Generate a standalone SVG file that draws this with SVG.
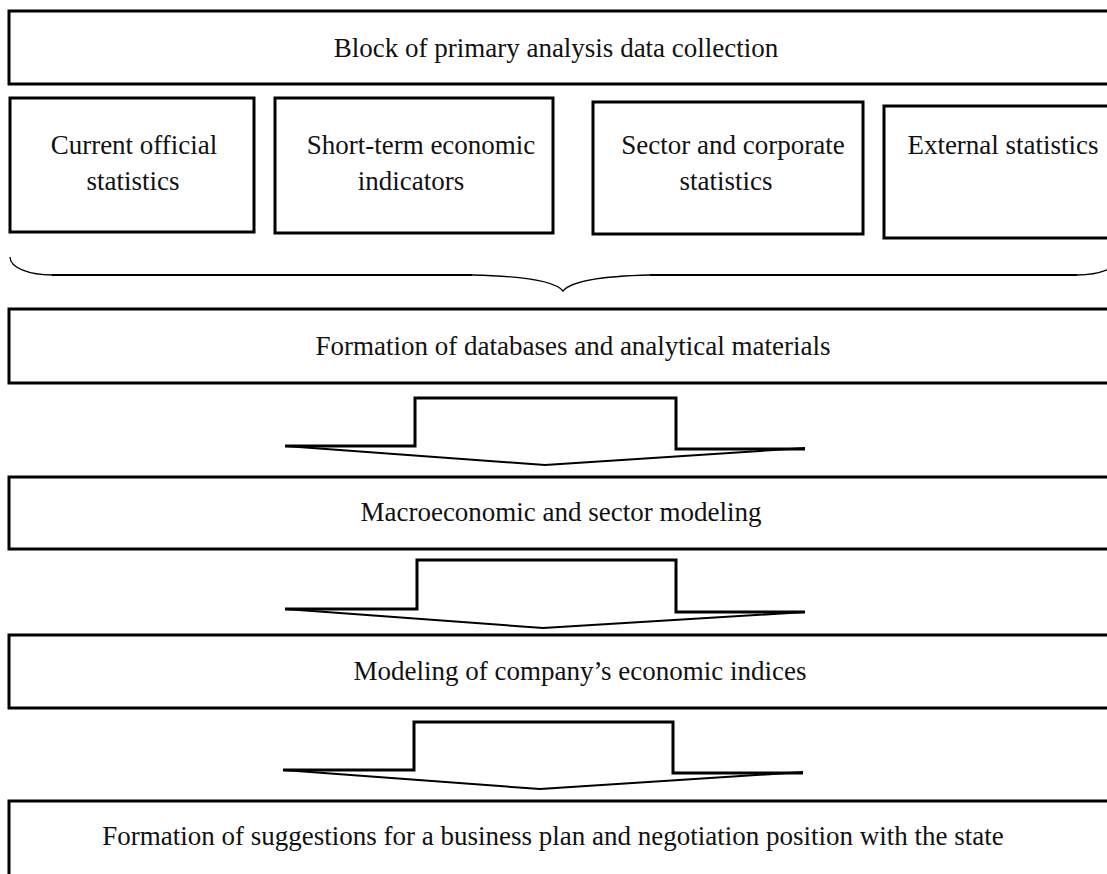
<svg xmlns="http://www.w3.org/2000/svg" width="1107" height="874" viewBox="0 0 1107 874">
<style>
.box{fill:#fff;stroke:#000;stroke-width:3}
.t{font-family:"Liberation Serif","Times New Roman",serif;font-size:27px;fill:#111;text-anchor:middle}
.arr{fill:none;stroke:#000;stroke-width:3;stroke-linejoin:miter}
.diag{fill:none;stroke:#000;stroke-width:2}
.brace{fill:none;stroke:#000;stroke-width:2}
.bc{fill:none;stroke:#000;stroke-width:1.3}
</style>
<rect x="0" y="0" width="1107" height="874" fill="#fff"/>
<g id="block-primary">
<rect class="box" x="9" y="11" width="1115" height="73"/>
<text class="t" x="556" y="57">Block of primary analysis data collection</text>
</g>
<g id="current-official">
<rect class="box" x="10" y="98" width="244" height="134"/>
<text class="t" x="134" y="154">Current official</text>
<text class="t" x="133" y="190">statistics</text>
</g>
<g id="short-term">
<rect class="box" x="275" y="98" width="278" height="135"/>
<text class="t" x="421" y="154">Short-term economic</text>
<text class="t" x="411" y="190">indicators</text>
</g>
<g id="sector-corporate">
<rect class="box" x="593" y="102" width="270" height="132"/>
<text class="t" x="733" y="154">Sector and corporate</text>
<text class="t" x="726" y="190">statistics</text>
</g>
<g id="external">
<rect class="box" x="884" y="106" width="240" height="132"/>
<text class="t" x="1003" y="154">External statistics</text>
</g>
<g id="brace">
<path class="bc" d="M10,257 C10,268 30,275 52,275"/>
<path class="brace" d="M52,275 H472"/>
<path class="bc" d="M472,275 C520,276 555,281 563,291 C571,281 606,276 650,275"/>
<path class="brace" d="M650,275 H1077"/>
<path class="bc" d="M1077,275 C1099,275 1119,268 1119,257"/>
</g>
<g id="formation-db">
<rect class="box" x="9" y="309" width="1115" height="74"/>
<text class="t" x="573" y="355">Formation of databases and analytical materials</text>
</g>
<g id="macro">
<rect class="box" x="9" y="477" width="1115" height="72"/>
<text class="t" x="561" y="521">Macroeconomic and sector modeling</text>
</g>
<g id="modeling-company">
<rect class="box" x="9" y="635" width="1115" height="73"/>
<text class="t" x="580" y="680">Modeling of company’s economic indices</text>
</g>
<g id="suggestions">
<rect class="box" x="9" y="801" width="1115" height="100"/>
<text class="t" x="553" y="845">Formation of suggestions for a business plan and negotiation position with the state</text>
</g>
<g id="connectors">
<path class="arr" d="M285,446 H415 V398 H676 V449 H805"/>
<path class="diag" d="M805,448 L545,465 L285,446"/>
<path class="arr" d="M285,609 H417 V560 H676 V612 H805"/>
<path class="diag" d="M805,612 L543,628 L285,609"/>
<path class="arr" d="M283,770 H414 V722 H673 V773 H803"/>
<path class="diag" d="M803,772 L540,789 L283,770"/>
</g>
</svg>
